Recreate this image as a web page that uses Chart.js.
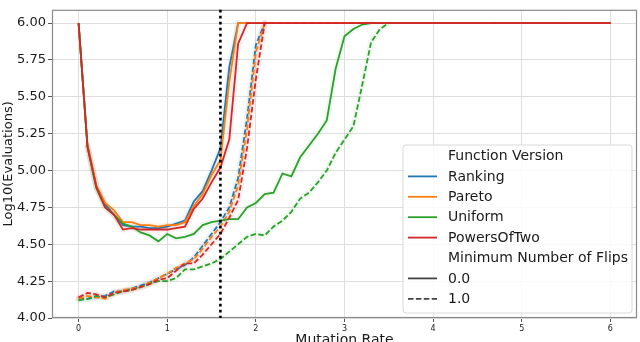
<!DOCTYPE html>
<html>
<head>
<meta charset="utf-8">
<script src="https://cdn.jsdelivr.net/npm/chart.js@4/dist/chart.umd.min.js"></script>
<style>
  html, body { margin: 0; padding: 0; background: #ffffff; }
  #wrap { width: 640px; height: 342px; }
</style>
</head>
<body>
<div id="wrap"><canvas id="c" width="640" height="342"></canvas></div>
<script>
// ---- data ----
const mutationRates = [0.0,0.1,0.2,0.3,0.4,0.5,0.6,0.7,0.8,0.9,1.0,1.1,1.2,1.3,1.4,1.5,1.6,1.7,1.8,1.9,2.0,2.1,2.2,2.3,2.4,2.5,2.6,2.7,2.8,2.9,3.0,3.1,3.2,3.3,3.4,3.5,3.6,3.7,3.8,3.9,4.0,4.1,4.2,4.3,4.4,4.5,4.6,4.7,4.8,4.9,5.0,5.1,5.2,5.3,5.4,5.5,5.6,5.7,5.8,5.9,6.0];

const functionVersions = ["Ranking", "Pareto", "Uniform", "PowersOfTwo"];
const minFlips = ["0.0", "1.0"];
const yTicks = [4.00, 4.25, 4.50, 4.75, 5.00, 5.25, 5.50, 5.75, 6.00];
const xTicks = [0, 1, 2, 3, 4, 5, 6];
const thresholdRate = 1.6;
const evaluationCap = 6.0;

// Minimum number of flips = 0.0 (solid)
const rankingFlips0 = [6.00,5.17,4.89,4.77,4.70,4.63,4.62,4.62,4.61,4.61,
  4.62,4.64,4.66,4.79,4.86,5.00,5.15,5.70,6.00,6.00,
  6.00,6.00,6.00,6.00,6.00,6.00,6.00,6.00,6.00,6.00,
  6.00,6.00,6.00,6.00,6.00,6.00,6.00,6.00,6.00,6.00,
  6.00,6.00,6.00,6.00,6.00,6.00,6.00,6.00,6.00,6.00,
  6.00,6.00,6.00,6.00,6.00,6.00,6.00,6.00,6.00,6.00,
  6.00];
const paretoFlips0 = [6.00,5.18,4.90,4.78,4.73,4.65,4.65,4.63,4.63,4.62,
  4.63,4.63,4.65,4.76,4.84,4.97,5.07,5.60,6.00,6.00,
  6.00,6.00,6.00,6.00,6.00,6.00,6.00,6.00,6.00,6.00,
  6.00,6.00,6.00,6.00,6.00,6.00,6.00,6.00,6.00,6.00,
  6.00,6.00,6.00,6.00,6.00,6.00,6.00,6.00,6.00,6.00,
  6.00,6.00,6.00,6.00,6.00,6.00,6.00,6.00,6.00,6.00,
  6.00];
const uniformFlips0 = [6.00,5.16,4.88,4.75,4.70,4.64,4.62,4.58,4.56,4.52,
  4.57,4.54,4.55,4.57,4.63,4.65,4.66,4.67,4.67,4.75,
  4.78,4.84,4.85,4.98,4.96,5.09,5.17,5.25,5.34,5.69,
  5.91,5.96,5.99,6.00,6.00,6.00,6.00,6.00,6.00,6.00,
  6.00,6.00,6.00,6.00,6.00,6.00,6.00,6.00,6.00,6.00,
  6.00,6.00,6.00,6.00,6.00,6.00,6.00,6.00,6.00,6.00,
  6.00];
const powersFlips0 = [6.00,5.16,4.89,4.75,4.70,4.60,4.61,4.60,4.60,4.60,
  4.60,4.61,4.62,4.74,4.81,4.92,5.02,5.21,5.86,6.00,
  6.00,6.00,6.00,6.00,6.00,6.00,6.00,6.00,6.00,6.00,
  6.00,6.00,6.00,6.00,6.00,6.00,6.00,6.00,6.00,6.00,
  6.00,6.00,6.00,6.00,6.00,6.00,6.00,6.00,6.00,6.00,
  6.00,6.00,6.00,6.00,6.00,6.00,6.00,6.00,6.00,6.00,
  6.00];

// Minimum number of flips = 1.0 (dashed)
const rankingFlips1 = [4.13,4.13,4.14,4.15,4.18,4.18,4.20,4.22,4.24,4.27,
  4.30,4.33,4.36,4.41,4.49,4.57,4.65,4.75,4.95,5.35,
  5.85,6.00,6.00,6.00,6.00,6.00,6.00,6.00,6.00,6.00,
  6.00,6.00,6.00,6.00,6.00,6.00,6.00,6.00,6.00,6.00,
  6.00,6.00,6.00,6.00,6.00,6.00,6.00,6.00,6.00,6.00,
  6.00,6.00,6.00,6.00,6.00,6.00,6.00,6.00,6.00,6.00,
  6.00];
const paretoFlips1 = [4.13,4.15,4.14,4.13,4.17,4.19,4.20,4.21,4.24,4.27,
  4.30,4.34,4.37,4.40,4.47,4.55,4.62,4.72,4.90,5.28,
  5.80,6.00,6.00,6.00,6.00,6.00,6.00,6.00,6.00,6.00,
  6.00,6.00,6.00,6.00,6.00,6.00,6.00,6.00,6.00,6.00,
  6.00,6.00,6.00,6.00,6.00,6.00,6.00,6.00,6.00,6.00,
  6.00,6.00,6.00,6.00,6.00,6.00,6.00,6.00,6.00,6.00,
  6.00];
const uniformFlips1 = [4.12,4.13,4.15,4.14,4.16,4.18,4.19,4.21,4.23,4.25,
  4.25,4.27,4.33,4.33,4.35,4.37,4.40,4.45,4.50,4.55,
  4.57,4.56,4.62,4.66,4.72,4.81,4.85,4.92,5.00,5.12,
  5.21,5.30,5.58,5.87,5.96,6.00,6.00,6.00,6.00,6.00,
  6.00,6.00,6.00,6.00,6.00,6.00,6.00,6.00,6.00,6.00,
  6.00,6.00,6.00,6.00,6.00,6.00,6.00,6.00,6.00,6.00,
  6.00];
const powersFlips1 = [4.14,4.17,4.16,4.14,4.17,4.18,4.19,4.21,4.23,4.26,
  4.27,4.32,4.37,4.37,4.43,4.50,4.57,4.68,4.80,5.15,
  5.62,6.00,6.00,6.00,6.00,6.00,6.00,6.00,6.00,6.00,
  6.00,6.00,6.00,6.00,6.00,6.00,6.00,6.00,6.00,6.00,
  6.00,6.00,6.00,6.00,6.00,6.00,6.00,6.00,6.00,6.00,
  6.00,6.00,6.00,6.00,6.00,6.00,6.00,6.00,6.00,6.00,
  6.00];

// ---- styling ----
const FONT = "'DejaVu Sans', 'Liberation Sans', sans-serif";
const TEXT = "#1a1a1a";
const colors = {Ranking: "#1f77b4", Pareto: "#ff7f0e", Uniform: "#2ca02c", PowersOfTwo: "#d62728"};
const haloColors = {Ranking: "rgba(31,119,180,0.07)", Pareto: "rgba(255,127,14,0.07)", Uniform: "rgba(44,160,44,0.07)", PowersOfTwo: "rgba(214,39,40,0.07)"};
const seriesByVersion = {
  Ranking: [rankingFlips0, rankingFlips1],
  Pareto: [paretoFlips0, paretoFlips1],
  Uniform: [uniformFlips0, uniformFlips1],
  PowersOfTwo: [powersFlips0, powersFlips1]
};
const dashFor = [[], [5.5, 2.4]];

const datasets = [];
functionVersions.forEach((fv, vi) => {
  minFlips.forEach((mf, fi) => {
    datasets.push({
      label: fv + " / " + mf,
      halo: haloColors[fv],
      data: mutationRates.map((x, i) => ({x: x, y: seriesByVersion[fv][fi][i]})),
      borderColor: colors[fv],
      backgroundColor: colors[fv],
      borderWidth: 1.8,
      borderDash: dashFor[fi],
      pointRadius: 0,
      tension: 0,
      fill: false,
      order: 10 - vi * 2 - fi
    });
  });
});

const framePlugin = {
  id: 'frame',
  beforeDatasetsDraw(chart) {
    const {ctx, chartArea: a} = chart;
    ctx.save();
    ctx.strokeStyle = "#8a8a8a";
    ctx.lineWidth = 1.2;
    ctx.strokeRect(a.left + 0.5, a.top + 0.5, a.right - a.left - 1, a.bottom - a.top - 1);
    // faint uncertainty halos (collapse where every run hits the cap)
    ctx.beginPath();
    ctx.rect(a.left, a.top, a.right - a.left, a.bottom - a.top);
    ctx.clip();
    chart.data.datasets.forEach((ds, i) => {
      const pts = chart.getDatasetMeta(i).data;
      ctx.beginPath();
      for (let j = 1; j < pts.length; j++) {
        const y0 = ds.data[j - 1].y, y1 = ds.data[j].y;
        if (y0 >= evaluationCap && y1 >= evaluationCap) continue;
        if (j === 1 && y0 >= evaluationCap) continue;
        ctx.moveTo(pts[j - 1].x, pts[j - 1].y);
        ctx.lineTo(pts[j].x, pts[j].y);
      }
      ctx.strokeStyle = ds.halo;
      ctx.lineWidth = 6;
      ctx.lineCap = "round";
      ctx.stroke();
    });
    ctx.restore();
  },
  afterDatasetsDraw(chart) {
    const {ctx, chartArea: a, scales} = chart;
    const px = scales.x.getPixelForValue(thresholdRate);
    ctx.save();
    ctx.strokeStyle = "#000";
    ctx.lineWidth = 2.6;
    ctx.setLineDash([2.6, 3.4]);
    ctx.beginPath();
    ctx.moveTo(px, a.top);
    ctx.lineTo(px, a.bottom);
    ctx.stroke();
    ctx.restore();
  },
  afterDraw(chart) {
    const ctx = chart.ctx;
    const L = 403, T = 145, W = 229, H = 168, r = 3;
    ctx.save();
    ctx.beginPath();
    ctx.moveTo(L + r, T);
    ctx.arcTo(L + W, T, L + W, T + H, r);
    ctx.arcTo(L + W, T + H, L, T + H, r);
    ctx.arcTo(L, T + H, L, T, r);
    ctx.arcTo(L, T, L + W, T, r);
    ctx.closePath();
    ctx.fillStyle = "rgba(255,255,255,0.85)";
    ctx.fill();
    ctx.strokeStyle = "#d9d9d9";
    ctx.lineWidth = 1;
    ctx.stroke();

    const rows = [];
    rows.push({text: "Function Version"});
    functionVersions.forEach(fv => rows.push({text: fv, color: colors[fv], dash: []}));
    rows.push({text: "Minimum Number of Flips"});
    minFlips.forEach((mf, i) => rows.push({text: mf, color: "#444444", dash: dashFor[i]}));
    ctx.font = "14px " + FONT;
    ctx.textBaseline = "middle";
    ctx.fillStyle = TEXT;
    rows.forEach((row, i) => {
      const y = 156 + i * 20.4;
      if (row.color) {
        ctx.beginPath();
        ctx.strokeStyle = row.color;
        ctx.lineWidth = 1.8;
        ctx.setLineDash(row.dash);
        ctx.moveTo(408, y);
        ctx.lineTo(437, y);
        ctx.stroke();
        ctx.setLineDash([]);
      }
      ctx.fillStyle = TEXT;
      ctx.fillText(row.text, 448, y + 0.5);
    });
    ctx.restore();
  }
};

new Chart(document.getElementById('c'), {
  type: 'line',
  data: { datasets: datasets },
  options: {
    responsive: false,
    animation: false,
    layout: { padding: { top: 1, right: 3, left: 0, bottom: 0 } },
    plugins: { legend: { display: false }, tooltip: { enabled: false } },
    scales: {
      x: {
        type: 'linear',
        min: -0.3,
        max: 6.3,
        afterFit(s) { s.height = 24; },
        afterBuildTicks(s) { s.ticks = xTicks.map(v => ({value: v})); },
        ticks: { font: { family: FONT, size: 8 }, color: TEXT, padding: 2, maxRotation: 0, callback: v => String(v) },
        grid: { color: "#dedede", lineWidth: 1, drawTicks: true, tickLength: 4, tickColor: "#555" },
        border: { display: false },
        title: { display: true, text: "Mutation Rate", font: { family: FONT, size: 14 }, color: TEXT, padding: { top: 0, bottom: -7 } }
      },
      y: {
        min: 4.0,
        max: 6.09,
        afterFit(s) { s.width = 52; },
        afterBuildTicks(s) { s.ticks = yTicks.map(v => ({value: v})); },
        ticks: { font: { family: FONT, size: 13 }, color: TEXT, padding: 2, callback: v => Number(v).toFixed(2) },
        grid: { color: "#dedede", lineWidth: 1, drawTicks: true, tickLength: 4, tickColor: "#555" },
        border: { display: false },
        title: { display: true, text: "Log10(Evaluations)", font: { family: FONT, size: 13 }, color: TEXT, padding: { top: 1, bottom: 0 } }
      }
    }
  },
  plugins: [framePlugin]
});
</script>
</body>
</html>
